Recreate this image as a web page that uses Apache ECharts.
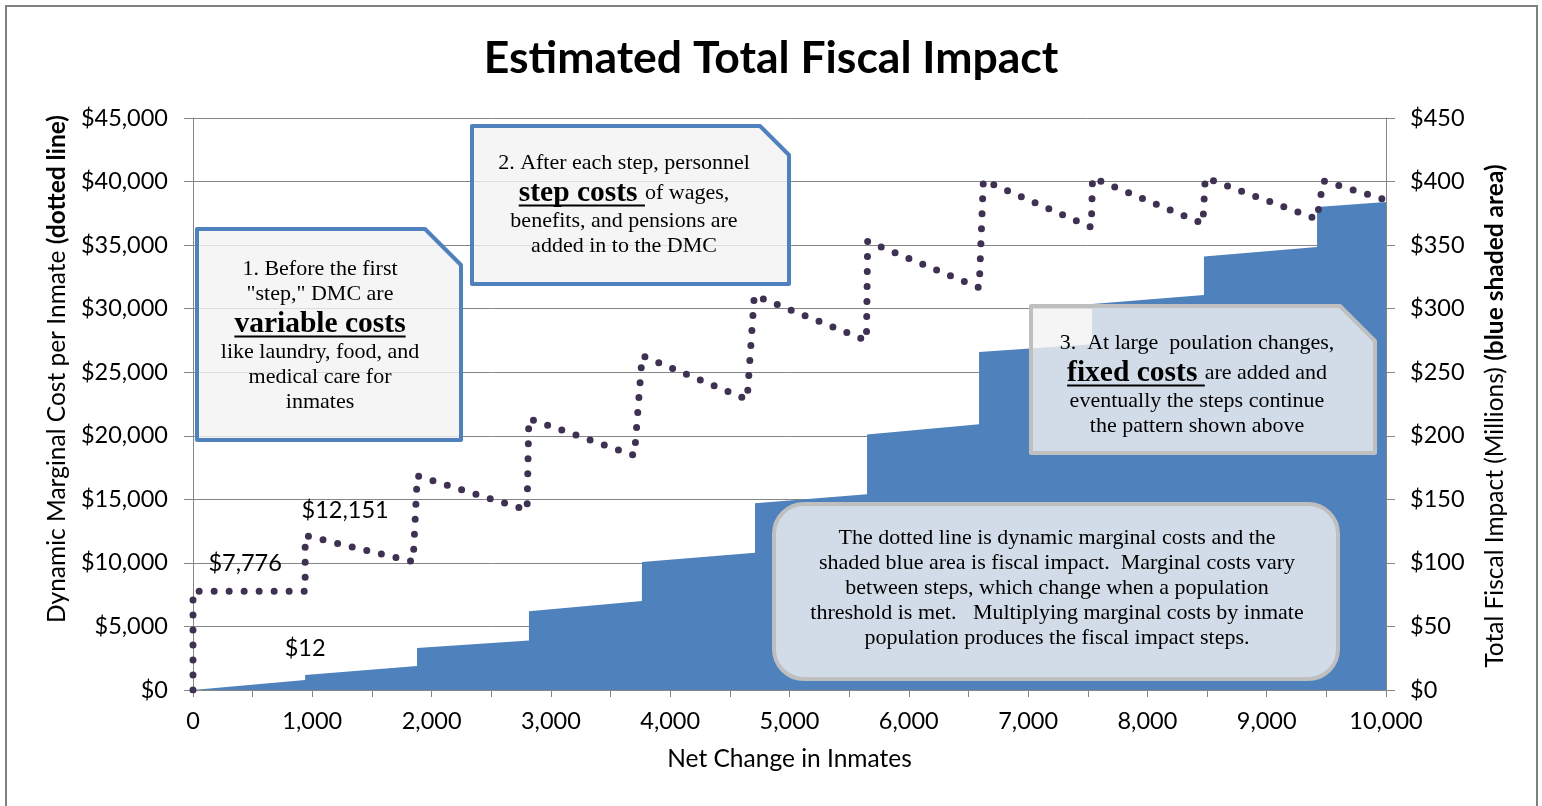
<!DOCTYPE html>
<html>
<head>
<meta charset="utf-8">
<script src="https://cdn.jsdelivr.net/npm/echarts@6/dist/echarts.min.js"></script>
<style>
html,body{margin:0;padding:0;background:#fff;}
#c{width:1542px;height:806px;}
</style>
</head>
<body>
<div id="c"></div>
<script>
// ---- data ----
// Dynamic marginal cost per inmate (dotted line): x = net change in inmates, y = $ per inmate
const dmcX = [0, 0, 940, 940, 1845, 1880, 2800, 2815, 3700, 3765, 4645, 4705, 5645, 5655, 6590, 6625, 7530, 7540, 8465, 8485, 9420, 9475, 10000];
const dmcY = [0, 7776, 7776, 12151, 10100, 16850, 14150, 21350, 18450, 26300, 22850, 31050, 27500, 35300, 31650, 40100, 36400, 40300, 36700, 40300, 37050, 40050, 38550];
// Total fiscal impact (blue shaded area), $ millions
const fiscalX = [0, 940, 940, 1878, 1878, 2816, 2816, 3763, 3763, 4711, 4711, 5650, 5650, 6589, 6589, 7536, 7536, 8474, 8474, 9422, 9422, 10000];
const fiscalY = [0, 7.9, 11.8, 18.9, 33, 39, 62, 70, 100.7, 108, 147, 154, 201, 209, 266, 272, 303.7, 310.7, 341, 348.5, 380, 384];
// labelled points
const dmcLabels = [{x: 940, y: 7776, text: '$7,776'}, {x: 940, y: 12151, text: '$12,151'}];
const fiscalLabels = [{x: 940, y: 11.8, text: '$12'}];

const title = 'Estimated Total Fiscal Impact';
const xName = 'Net Change in Inmates';
const leftName = ['Dynamic Marginal Cost per Inmate ', '(dotted line)'];
const rightName = ['Total Fiscal Impact (Millions) ', '(blue shaded area)'];

const chart = echarts.init(document.getElementById('c'), null, {renderer: 'canvas'});

const LABEL_FONT = 'Lato';
const SERIF = 'Liberation Serif';
const gray = '#868686';

const dmcData = dmcX.map((x, i) => [x, dmcY[i]]);
const fiscalData = fiscalX.map((x, i) => [x, fiscalY[i]]);

// text measuring for annotation boxes
const mctx = document.createElement('canvas').getContext('2d');
function tw(text, size, bold) {
  mctx.font = (bold ? 'bold ' : '') + size + 'px "' + SERIF + '"';
  return mctx.measureText(text).width;
}

const NS = 22, BS = 29.5;
function buildLines(cx, lines) {
  const els = [];
  lines.forEach(l => {
    const segs = Array.isArray(l.t) ? l.t : [{s: l.t}];
    const widths = segs.map(sg => tw(sg.s, sg.b ? BS : NS, sg.b));
    const total = widths.reduce((a, b) => a + b, 0);
    let x = cx - total / 2;
    segs.forEach((sg, i) => {
      const size = sg.b ? BS : NS;
      els.push({
        type: 'text', z: 100,
        x: x, y: l.y,
        style: {text: sg.s, fill: '#000', font: (sg.b ? 'bold ' : '') + size + 'px "' + SERIF + '"', textAlign: 'left', textVerticalAlign: 'middle'}
      });
      if (sg.u) {
        els.push({type: 'line', z: 100, shape: {x1: x, y1: l.y + size * 0.42, x2: x + widths[i], y2: l.y + size * 0.42}, style: {stroke: '#000', lineWidth: 2}});
      }
      x += widths[i];
    });
  });
  return els;
}

function axisNameText(cx, cy, parts) {
  return {
    type: 'text', z: 100, x: cx, y: cy, rotation: Math.PI / 2,
    style: {
      text: '{n|' + parts[0] + '}{b|' + parts[1] + '}',
      textAlign: 'center', textVerticalAlign: 'middle',
      rich: {
        n: {fontFamily: LABEL_FONT, fontSize: 24.5, fill: '#000', color: '#000'},
        b: {fontFamily: LABEL_FONT, fontSize: 24.5, fontWeight: 'bold', fill: '#000', color: '#000'}
      }
    }
  };
}

const boxFill = 'rgba(242,242,242,0.8)';
const graphics = [
  // outer frame
  {type: 'rect', z: 50, shape: {x: 6, y: 6, width: 1531, height: 830}, style: {fill: 'none', stroke: '#808080', lineWidth: 2}},
  // box 1
  {type: 'polygon', z: 90, shape: {points: [[197,229],[425,229],[461,265],[461,440],[197,440]]}, style: {fill: boxFill, stroke: '#4F81BD', lineWidth: 4, lineJoin: 'round'}},
  // box 2
  {type: 'polygon', z: 90, shape: {points: [[472,126],[760,126],[789,155],[789,284],[472,284]]}, style: {fill: boxFill, stroke: '#4F81BD', lineWidth: 4, lineJoin: 'round'}},
  // box 3
  {type: 'polygon', z: 90, shape: {points: [[1031,306],[1340,306],[1375,341],[1375,453],[1031,453]]}, style: {fill: boxFill, stroke: '#BFBFBF', lineWidth: 4, lineJoin: 'round'}},
  // box 4
  {type: 'rect', z: 90, shape: {x: 774, y: 504, width: 564, height: 175, r: 30}, style: {fill: boxFill, stroke: '#BFBFBF', lineWidth: 4}},
  axisNameText(57, 369, leftName),
  axisNameText(1495, 416, rightName)
];

graphics.push(...buildLines(320, [
  {y: 269, t: '1. Before the first'},
  {y: 294, t: '"step," DMC are'},
  {y: 324, t: [{s: 'variable costs', b: true, u: true}]},
  {y: 352, t: 'like laundry, food, and'},
  {y: 377, t: 'medical care for'},
  {y: 402, t: 'inmates'}
]));
graphics.push(...buildLines(624, [
  {y: 163, t: '2. After each step, personnel'},
  {y: 193, t: [{s: 'step costs ', b: true, u: true}, {s: 'of wages,'}]},
  {y: 221, t: 'benefits, and pensions are'},
  {y: 246, t: 'added in to the DMC'}
]));
graphics.push(...buildLines(1197, [
  {y: 343, t: '3.  At large  poulation changes,'},
  {y: 373, t: [{s: 'fixed costs ', b: true, u: true}, {s: 'are added and'}]},
  {y: 401, t: 'eventually the steps continue'},
  {y: 426, t: 'the pattern shown above'}
]));
graphics.push(...buildLines(1057, [
  {y: 538, t: 'The dotted line is dynamic marginal costs and the'},
  {y: 563, t: 'shaded blue area is fiscal impact.  Marginal costs vary'},
  {y: 588, t: 'between steps, which change when a population'},
  {y: 613, t: 'threshold is met.   Multiplying marginal costs by inmate'},
  {y: 638, t: 'population produces the fiscal impact steps.'}
]));

const labelStyle = {fontFamily: LABEL_FONT, fontSize: 23.5, color: '#000'};

const option = {
  backgroundColor: '#fff',
  animation: false,
  title: {
    text: title, left: 'center', top: 31,
    textStyle: {fontFamily: LABEL_FONT, fontWeight: 'bold', fontSize: 44.5, color: '#000'}
  },
  grid: {left: 193, right: 156, top: 118, bottom: 116, containLabel: false},
  xAxis: {
    type: 'value', min: 0, max: 10000, interval: 500,
    name: xName, nameLocation: 'middle', nameGap: 57,
    nameTextStyle: {fontFamily: LABEL_FONT, fontSize: 24.5, color: '#000'},
    axisLine: {show: true, lineStyle: {color: gray, width: 1}},
    axisTick: {show: true, length: 7, lineStyle: {color: gray}},
    splitLine: {show: false},
    axisLabel: {
      margin: 19, ...labelStyle,
      formatter: v => (v % 1000 === 0 ? v.toLocaleString('en-US') : '')
    }
  },
  yAxis: [
    {
      type: 'value', min: 0, max: 45000, interval: 5000, position: 'left',
      axisLine: {show: true, lineStyle: {color: gray, width: 1}},
      axisTick: {show: true, length: 9, lineStyle: {color: gray}},
      splitLine: {show: true, lineStyle: {color: gray, width: 1}},
      axisLabel: {margin: 25, ...labelStyle, formatter: v => '$' + v.toLocaleString('en-US')}
    },
    {
      type: 'value', min: 0, max: 450, interval: 50, position: 'right',
      axisLine: {show: true, lineStyle: {color: gray, width: 1}},
      axisTick: {show: true, length: 9, lineStyle: {color: gray}},
      splitLine: {show: false},
      axisLabel: {margin: 24, ...labelStyle, formatter: v => '$' + v}
    }
  ],
  series: [
    {
      name: 'Total Fiscal Impact', type: 'line', yAxisIndex: 1, z: 2,
      data: fiscalData, showSymbol: false, symbol: 'none',
      lineStyle: {width: 0, color: '#4F81BD'},
      areaStyle: {color: '#4F81BD', opacity: 1},
      markPoint: {
        symbol: 'circle', symbolSize: 1, itemStyle: {color: 'rgba(0,0,0,0)'},
        label: {show: true, position: 'inside', offset: [0, -27], ...labelStyle, formatter: p => p.name},
        data: fiscalLabels.map(d => ({name: d.text, coord: [d.x, d.y]}))
      }
    },
    {
      name: 'Dynamic Marginal Cost', type: 'line', yAxisIndex: 0, z: 3,
      data: dmcData, showSymbol: false, symbol: 'none',
      lineStyle: {width: 7, color: '#3F3151', type: [0, 15], cap: 'round', join: 'round'},
      markPoint: {
        symbol: 'circle', symbolSize: 1, itemStyle: {color: 'rgba(0,0,0,0)'},
        label: {show: true, position: 'inside', ...labelStyle, formatter: p => p.name},
        data: [
          {name: dmcLabels[0].text, coord: [dmcLabels[0].x, dmcLabels[0].y], label: {offset: [-60, -28]}},
          {name: dmcLabels[1].text, coord: [dmcLabels[1].x, dmcLabels[1].y], label: {offset: [40, -25]}}
        ]
      }
    }
  ],
  graphic: graphics
};
chart.setOption(option);
</script>
</body>
</html>
